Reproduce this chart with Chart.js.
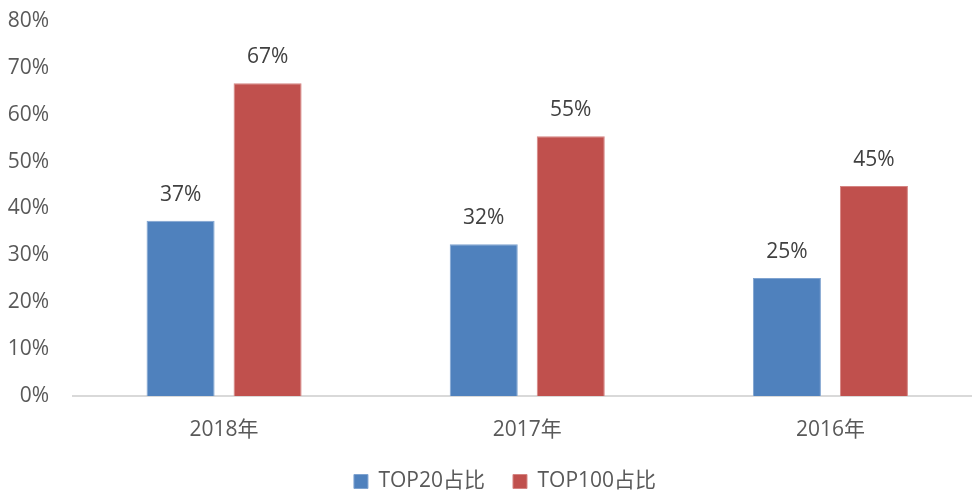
<!DOCTYPE html>
<html>
<head>
<meta charset="utf-8">
<script src="https://cdn.jsdelivr.net/npm/chart.js@4/dist/chart.umd.min.js"></script>
<style>
html,body{margin:0;padding:0;background:#fff;overflow:hidden;width:972px;height:493px;}
#wrap{width:1010px;height:493px;}
</style>
</head>
<body>
<div id="wrap"><canvas id="c" width="1010" height="493"></canvas></div>
<script>
const categories = ['2018年', '2017年', '2016年'];
const top20Share = [37.4, 32.4, 25.2];
const top100Share = [66.7, 55.4, 44.8];
const seriesNames = ['TOP20占比', 'TOP100占比'];
const yTicks = [0, 10, 20, 30, 40, 50, 60, 70, 80];

const FONT = "'Open Sans', 'Noto Sans CJK SC', sans-serif";

const valueLabels = {
  id: 'valueLabels',
  afterLayout(chart) {
    const lg = chart.legend;
    if (lg) { lg.left += 14; lg.right += 14; }
  },
  afterDatasetsDraw(chart) {
    const ctx = chart.ctx;
    ctx.save();
    ctx.font = "21px " + FONT;
    ctx.fillStyle = '#404040';
    ctx.textAlign = 'center';
    ctx.textBaseline = 'middle';
    chart.data.datasets.forEach((ds, i) => {
      chart.getDatasetMeta(i).data.forEach((bar, j) => {
        ctx.fillText(Math.round(ds.data[j]) + '%', bar.x, bar.y - 26);
      });
    });
    ctx.restore();
  }
};

new Chart(document.getElementById('c'), {
  type: 'bar',
  data: {
    labels: categories,
    datasets: [
      { label: seriesNames[0], data: top20Share, backgroundColor: '#4F81BD', borderColor: '#7FA3D0', borderWidth: 1,
        categoryPercentage: 0.574, barPercentage: 0.782 },
      { label: seriesNames[1], data: top100Share, backgroundColor: '#C0504D', borderColor: '#D58482', borderWidth: 1,
        categoryPercentage: 0.574, barPercentage: 0.782 }
    ]
  },
  options: {
    responsive: false,
    animation: false,
    devicePixelRatio: 1,
    layout: { padding: { top: 21, right: 28, left: 0, bottom: -9 } },
    plugins: {
      legend: {
        position: 'bottom',
        labels: { boxWidth: 14, boxHeight: 14, padding: 28, color: '#595959', font: { family: FONT, size: 21 } }
      },
      tooltip: { enabled: false }
    },
    scales: {
      x: {
        afterFit(scale) { scale.height = 47; },
        grid: { display: false, drawTicks: false },
        border: { display: true, color: '#D9D9D9', width: 2 },
        ticks: { color: '#595959', font: { family: FONT, size: 21 }, padding: 21 }
      },
      y: {
        min: 0, max: 80,
        afterBuildTicks(scale) { scale.ticks = yTicks.map(v => ({ value: v })); },
        afterFit(scale) { scale.width = 72.5; scale.paddingTop = 0; scale.paddingBottom = 0; },
        grid: { display: false, drawTicks: false },
        border: { display: false },
        ticks: { color: '#595959', font: { family: FONT, size: 21 }, padding: 23.5, callback: v => v + '%' }
      }
    }
  },
  plugins: [valueLabels]
});
</script>
</body>
</html>
